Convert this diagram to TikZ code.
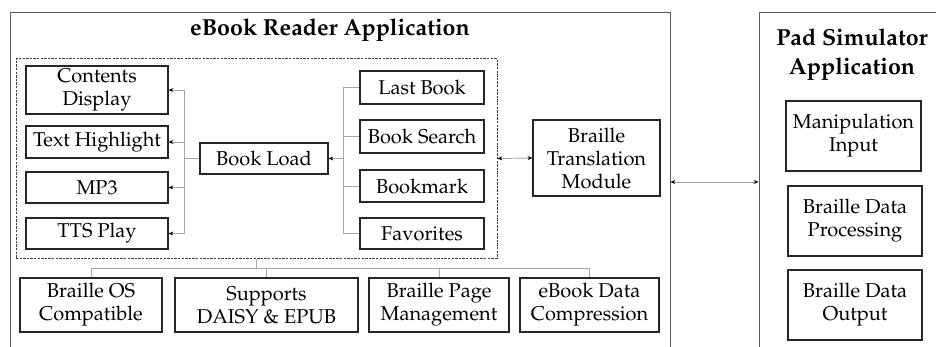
\documentclass[tikz,border=0pt]{standalone}
\usepackage[T1]{fontenc}
\usepackage{mathpazo}
\usetikzlibrary{arrows.meta}

\tikzset{
  box/.style={draw=black!85, line width=0.6pt, fill=white, align=center,
    inner sep=0pt, font=\fontsize{10}{11.5}\selectfont},
  frame/.style={draw=black!65, line width=0.5pt, inner sep=0pt},
  group/.style={draw=black!75, line width=0.5pt, dash pattern=on 1.2pt off 0.6pt, inner sep=0pt},
  title/.style={font=\bfseries\fontsize{11.6}{14.5}\selectfont, align=center, inner sep=0pt},
  conn/.style={draw=black!35, line width=0.45pt},
  tip/.tip={Stealth[length=2.4pt,width=2pt,color=black]},
}

\begin{document}
\begin{tikzpicture}[x=0.5pt,y=-0.5pt]
\useasboundingbox (0,0) rectangle (936,347);
\clip (0,0) rectangle (936,347);

% containers (open towards the bottom edge)
\node[frame, minimum width=330pt, minimum height=193.5pt] (ebook) at (340,206.5) {};
\node[frame, minimum width=100.5pt, minimum height=193.5pt] (pad) at (859.5,206.5) {};
\node[title] (ebooktitle) at (330,30) {eBook Reader Application};
\node[title] (padtitle) at (852,55) {Pad Simulator\\Application};

% dashed group holding the book functions
\node[group, minimum width=240.5pt, minimum height=99.5pt] (core) at (256.5,158.5) {};

% output functions
\node[box, minimum width=71pt, minimum height=24pt] (cd) at (97,90) {Contents\\Display};
\node[box, minimum width=71pt, minimum height=16pt] (th) at (97,142) {Text Highlight};
\node[box, minimum width=71pt, minimum height=15.5pt] (mp3) at (97,187.5) {MP3};
\node[box, minimum width=71pt, minimum height=15.5pt] (tts) at (97,233.5) {TTS Play};

\node[box, minimum width=64pt, minimum height=15.5pt] (bl) at (264,158.5) {Book Load};

% input functions
\node[box, minimum width=62pt, minimum height=16.5pt] (lb) at (422,87.5) {Last Book};
\node[box, minimum width=62pt, minimum height=16.5pt] (bs) at (422,136.5) {Book Search};
\node[box, minimum width=62pt, minimum height=16pt] (bm) at (422,186) {Bookmark};
\node[box, minimum width=62pt, minimum height=15.5pt] (fav) at (422,233.5) {Favorites};

\node[box, minimum width=63.5pt, minimum height=38pt] (btm) at (596.5,158) {Braille\\Translation\\Module};

% pad simulator modules
\node[box, minimum width=67.5pt, minimum height=35pt] (mi) at (853.5,136) {Manipulation\\Input};
\node[box, minimum width=67pt, minimum height=35pt] (bdp) at (855,221) {Braille Data\\Processing};
\node[box, minimum width=67pt, minimum height=35pt] (bdo) at (855,305) {Braille Data\\Output};

% supporting features
\node[box, minimum width=71pt, minimum height=27pt] (bos) at (91,305) {Braille OS\\Compatible};
\node[box, minimum width=91.5pt, minimum height=27pt] (sup) at (266.5,305) {Supports\\DAISY \& EPUB};
\node[box, minimum width=70pt, minimum height=27pt] (bpm) at (439,305) {Braille Page\\Management};
\node[box, minimum width=69.5pt, minimum height=27pt] (edc) at (589.5,305) {eBook Data\\Compression};

% junction points
\coordinate (ltrunk) at (184,158.5);
\coordinate (rtrunk) at (343,158.5);
\coordinate (bj) at (256.5,268);
\coordinate (link) at (0,182);

% book load to output functions
\draw[conn] (bl.west) -- (ltrunk);
\foreach \n in {cd,th,mp3,tts}
  \draw[conn,-tip] (ltrunk) |- (\n.east);

% input functions to book load
\draw[conn,-tip] (rtrunk) -- (bl.east);
\foreach \n in {lb,bs,bm,fav}
  \draw[conn] (rtrunk) |- (\n.west);

% group to translation module
\draw[conn,tip-tip] (core.east) -- (btm.west);

% application link
\draw[conn,tip-tip] (ebook.east |- link) -- (pad.west |- link);

% group to supporting features
\draw[conn] (core.south) -- (bj);
\draw[conn] (bos.north) |- (edc.north |- bj) -- (edc.north);
\draw[conn] (sup.north) -- (sup.north |- bj);
\draw[conn] (bpm.north) -- (bpm.north |- bj);
\end{tikzpicture}
\end{document}
